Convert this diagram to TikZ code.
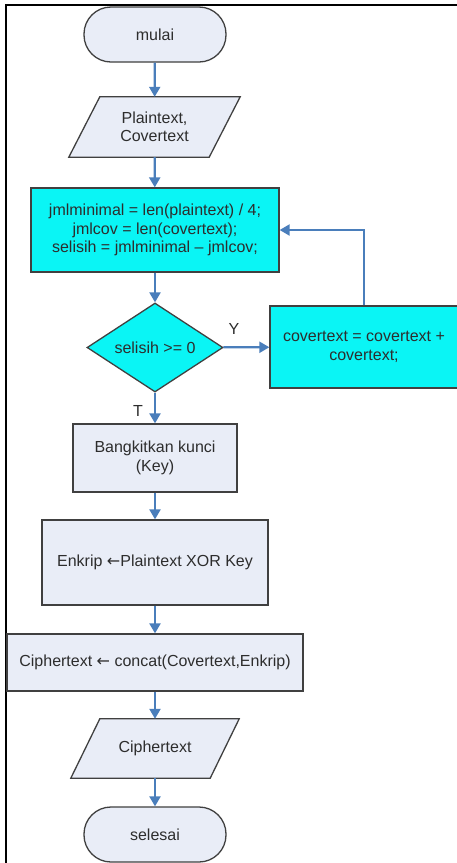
\documentclass[tikz,border=0pt]{standalone}
\usepackage{fontspec}
\setmainfont{Liberation Sans}
\newfontfamily\arrfont{DejaVu Sans}
\usetikzlibrary{shapes.geometric,arrows.meta}
\definecolor{arr}{RGB}{74,126,187}
\definecolor{lfill}{RGB}{233,237,247}
\definecolor{cyanf}{RGB}{10,245,245}
\definecolor{bord}{RGB}{64,64,64}
\definecolor{txt}{RGB}{45,45,45}
\begin{document}
\begin{tikzpicture}[x=1pt,y=-1pt,
  every node/.style={font=\fontsize{16}{18.5}\selectfont, text=txt, align=center, inner sep=0pt},
  term/.style={draw=bord, line width=1.3pt, fill=lfill, rounded corners=27pt, minimum width=142pt, minimum height=55pt},
  box/.style={draw=bord, line width=1.3pt, fill=lfill},
  cbox/.style={draw=bord, line width=1.3pt, fill=cyanf},
  dec/.style={diamond, draw=bord, line width=1.3pt, fill=cyanf, minimum width=136pt, minimum height=89pt, aspect=1.53},
  flow/.style={draw=arr, line width=2.2pt, -{Triangle[width=11pt,length=10pt]}},
  lbl/.style={font=\fontsize{16}{18}\selectfont}
]
\useasboundingbox (0,0) rectangle (456,863);
\fill[white] (0,0) rectangle (456,863);
\draw[line width=1.4pt] (6,863) -- (6,5) -- (460,5);

\node[term] (start) at (155,34.5) {mulai};

\node[minimum width=171pt, minimum height=60pt] (in) at (154.5,127) {};
\draw[box] ([xshift=31pt]in.north west) -- (in.north east) -- ([xshift=-31pt]in.south east) -- (in.south west) -- cycle;
\node at (in.center) {Plaintext,\\Covertext};

\node[cbox, minimum width=248pt, minimum height=84pt] (proc) at (155,230) {jmlminimal = len(plaintext) / 4;\\jmlcov = len(covertext);\\selisih = jmlminimal -- jmlcov;};

\node[dec] (d) at (155,347.5) {selisih >= 0};

\node[cbox, minimum width=188pt, minimum height=82pt] (cov) at (364,347) {covertext = covertext +\\covertext;};

\node[box, minimum width=164pt, minimum height=68pt] (key) at (155,458) {Bangkitkan kunci\\(Key)};

\node[box, minimum width=226pt, minimum height=85pt] (enc) at (155,562.5) {Enkrip {\arrfont ←}Plaintext XOR Key};

\node[box, minimum width=296pt, minimum height=57pt] (cat) at (155,662.5) {Ciphertext {\arrfont ←} concat(Covertext,Enkrip)};

\node[minimum width=168pt, minimum height=59pt] (out) at (155,748.5) {};
\draw[box] ([xshift=29pt]out.north west) -- (out.north east) -- ([xshift=-29pt]out.south east) -- (out.south west) -- cycle;
\node at (out.center) {Ciphertext};

\node[term] (end) at (155,834.5) {selesai};

\draw[flow] (start) -- (in);
\draw[flow] (in) -- (proc);
\draw[flow] (proc) -- (d);
\draw[flow] (d) -- (cov);
\draw[flow] (cov.north) |- (proc.east);
\draw[flow] (d) -- (key);
\draw[flow] (key) -- (enc);
\draw[flow] (enc) -- (cat);
\draw[flow] (cat) -- (out);
\draw[flow] (out) -- (end);

\node[lbl] (ly) at (234,329) {Y};
\node[lbl] (lt) at (138,411) {T};
\end{tikzpicture}
\end{document}
